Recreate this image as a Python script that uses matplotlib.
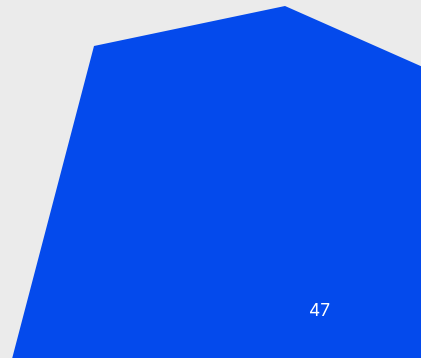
import matplotlib.pyplot as plt
from matplotlib.patches import Polygon

# cell outline (data units, y grows downward) and its label
cell_x = [94, 285, 520, 520, -4]
cell_y = [46, 6, 110, 420, 420]
cell_value = 47
label_x, label_y = 320, 311

fig = plt.figure(figsize=(4.21, 3.58), dpi=100)
fig.patch.set_facecolor('#ebebeb')
ax = fig.add_axes([0, 0, 1, 1])
ax.set_facecolor('#ebebeb')
ax.set_xlim(0, 421)
ax.set_ylim(358, 0)
ax.axis('off')

ax.add_patch(Polygon(list(zip(cell_x, cell_y)), closed=True,
                     facecolor='#044aec', edgecolor='none'))
ax.text(label_x, label_y, str(cell_value), color='white', fontsize=12.5,
        family=['Inter', 'DejaVu Sans'], ha='center', va='center')

fig.savefig('out.png', dpi=100, facecolor=fig.get_facecolor())
